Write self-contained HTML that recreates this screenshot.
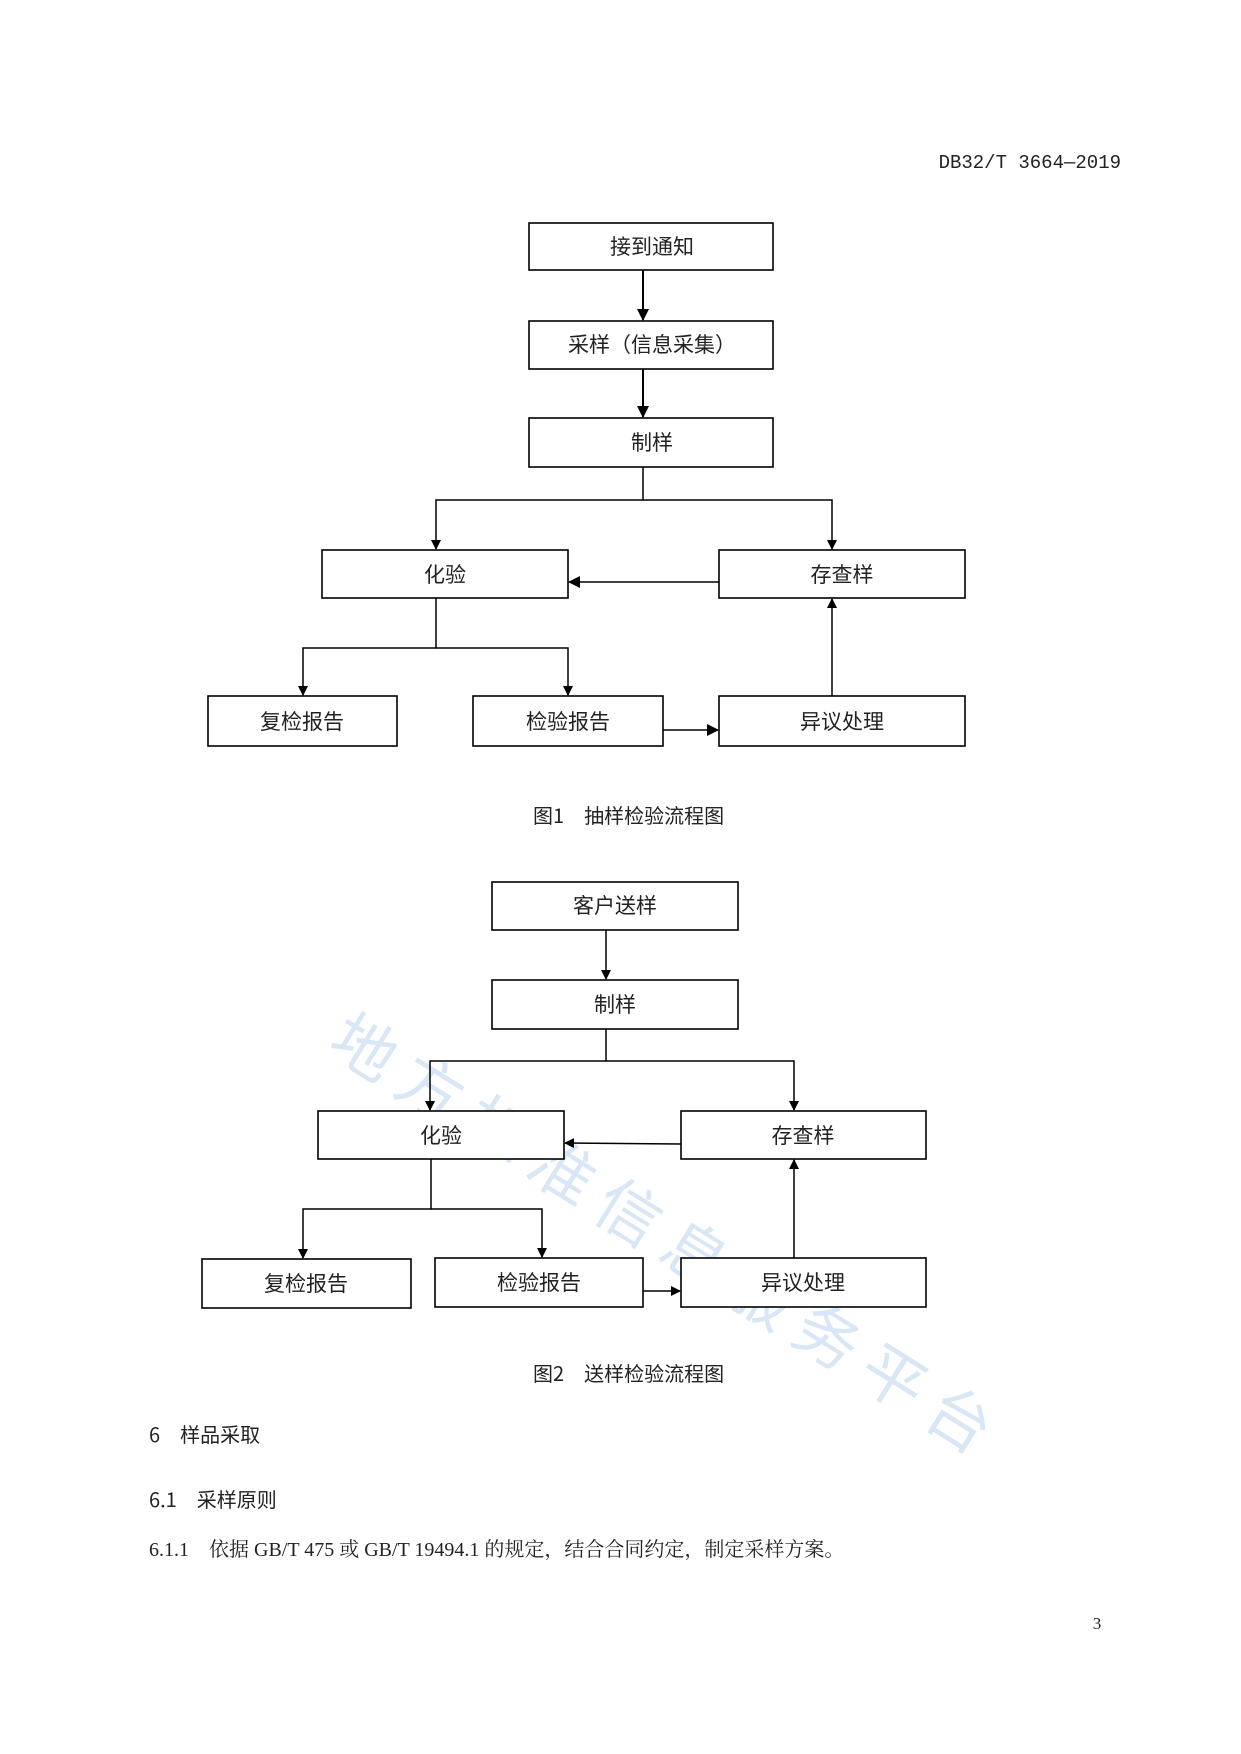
<!DOCTYPE html>
<html><head><meta charset="utf-8">
<style>
html,body{margin:0;padding:0;background:#fff;}
svg{display:block;}
text{font-family:"Liberation Sans","Noto Sans CJK SC",sans-serif;fill:#222;}
.b{font-family:"Liberation Serif","Noto Serif CJK SC",serif;font-size:21px;}
.h{font-family:"Noto Sans CJK SC",sans-serif;font-size:20px;}
</style></head><body>
<svg width="1241" height="1754" viewBox="0 0 1241 1754" xmlns="http://www.w3.org/2000/svg">
<defs>
<marker id="a" markerWidth="10" markerHeight="10" refX="9" refY="5" orient="auto" markerUnits="userSpaceOnUse" viewBox="0 0 10 10"><path d="M0,0 L10,5 L0,10 z" fill="#000"/></marker>
<marker id="a2" markerWidth="12" markerHeight="12" refX="11" refY="6" orient="auto" markerUnits="userSpaceOnUse" viewBox="0 0 12 12"><path d="M0,0 L12,6 L0,12 z" fill="#000"/></marker>
</defs>
<text x="1121" y="168" text-anchor="end" style="font-family:'Liberation Mono','Noto Sans CJK SC',monospace;font-size:19px;">DB32/T 3664—2019</text>

<text x="325" y="1050" transform="rotate(32 325 1050)" style="font-family:'Noto Sans CJK SC',sans-serif;font-size:64px;fill:#cfe0f3;opacity:0.8;letter-spacing:14px;">地方标准信息服务平台</text>

<g transform="translate(-3,-3)">
<g fill="#fff" stroke="#000" stroke-width="1.6">
<rect x="532" y="226" width="244" height="47"/>
<rect x="532" y="324" width="244" height="48"/>
<rect x="532" y="421" width="244" height="49"/>
<rect x="325" y="553" width="246" height="48"/>
<rect x="722" y="553" width="246" height="48"/>
<rect x="211" y="699" width="189" height="50"/>
<rect x="476" y="699" width="190" height="50"/>
<rect x="722" y="699" width="246" height="50"/>
</g>
<g stroke="#000" stroke-width="2" fill="none" marker-end="url(#a2)">
<line x1="646" y1="273" x2="646" y2="323"/>
<line x1="646" y1="372" x2="646" y2="420"/>
</g>
<g stroke="#000" stroke-width="1.5" fill="none">
<polyline points="646,470 646,503 439,503 439,552" marker-end="url(#a)"/>
<polyline points="646,503 835,503 835,552" marker-end="url(#a)"/>
<line x1="722" y1="585" x2="572" y2="585" marker-end="url(#a2)"/>
<polyline points="439,601 439,651 306,651 306,698" marker-end="url(#a)"/>
<polyline points="439,651 571,651 571,698" marker-end="url(#a)"/>
<line x1="666" y1="733" x2="721" y2="733" marker-end="url(#a2)"/>
<line x1="835" y1="699" x2="835" y2="602" marker-end="url(#a)"/>
</g>
<g class="b" text-anchor="middle">
<text x="655" y="257">接到通知</text>
<text x="655" y="355">采样（信息采集）</text>
<text x="655" y="453">制样</text>
<text x="448" y="585">化验</text>
<text x="845" y="585">存查样</text>
<text x="305" y="732">复检报告</text>
<text x="571" y="732">检验报告</text>
<text x="845" y="732">异议处理</text>
</g>
</g>

<g transform="translate(-3,-7)">
<g fill="#fff" stroke="#000" stroke-width="1.6">
<rect x="495" y="889" width="246" height="48"/>
<rect x="495" y="987" width="246" height="49"/>
<rect x="321" y="1118" width="246" height="48"/>
<rect x="684" y="1118" width="245" height="48"/>
<rect x="205" y="1266" width="209" height="49"/>
<rect x="438" y="1265" width="208" height="49"/>
<rect x="684" y="1265" width="245" height="49"/>
</g>
<g stroke="#000" stroke-width="1.5" fill="none">
<line x1="609" y1="937" x2="609" y2="986" marker-end="url(#a)"/>
<polyline points="609,1036 609,1068 433,1068 433,1117" marker-end="url(#a)"/>
<polyline points="609,1068 797,1068 797,1117" marker-end="url(#a)"/>
<line x1="684" y1="1151" x2="568" y2="1150" marker-end="url(#a)"/>
<polyline points="434,1166 434,1216 306,1216 306,1265" marker-end="url(#a)"/>
<polyline points="434,1216 545,1216 545,1264" marker-end="url(#a)"/>
<line x1="646" y1="1298" x2="683" y2="1298" marker-end="url(#a)"/>
<line x1="797" y1="1265" x2="797" y2="1167" marker-end="url(#a)"/>
</g>
<g class="b" text-anchor="middle">
<text x="618" y="920">客户送样</text>
<text x="618" y="1019">制样</text>
<text x="444" y="1150">化验</text>
<text x="806" y="1150">存查样</text>
<text x="309" y="1298">复检报告</text>
<text x="542" y="1297">检验报告</text>
<text x="806" y="1297">异议处理</text>
</g>
</g>

<text class="h" x="533" y="823">图1　抽样检验流程图</text>
<text class="h" x="533" y="1381">图2　送样检验流程图</text>

<text class="h" x="149" y="1442">6　样品采取</text>
<text class="h" x="149" y="1507">6.1　采样原则</text>
<text x="149" y="1556" style="font-family:'Liberation Serif','Noto Serif CJK SC',serif;font-size:20px;">6.1.1　依据 GB/T 475 或 GB/T 19494.1 的规定，结合合同约定，制定采样方案。</text>

<text x="1097" y="1629" text-anchor="middle" style="font-family:'Liberation Serif',serif;font-size:17px;">3</text>
</svg>
</body></html>
